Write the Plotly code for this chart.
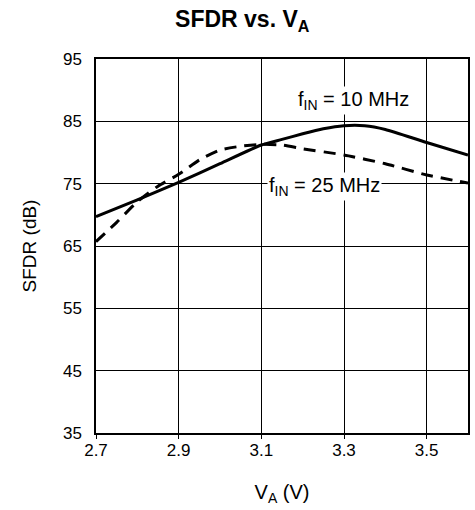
import plotly.graph_objects as go

# tensão de alimentação (V) e SFDR (dB)
va_10 = [2.7, 2.8, 2.9, 3.0, 3.1, 3.15, 3.2, 3.25, 3.3, 3.35, 3.4, 3.5, 3.6]
sfdr_10 = [69.7, 72.4, 75.2, 78.2, 81.2, 82.1, 83.0, 83.8, 84.3, 84.3, 83.7, 81.6, 79.6]

va_25 = [2.7, 2.75, 2.8, 2.85, 2.9, 2.95, 3.0, 3.05, 3.1, 3.15, 3.2, 3.3, 3.4, 3.5, 3.6]
sfdr_25 = [65.7, 68.8, 72.1, 74.6, 76.5, 78.8, 80.4, 81.0, 81.3, 81.2, 80.6, 79.6, 78.2, 76.4, 75.1]

x_ticks = [2.7, 2.9, 3.1, 3.3, 3.5]
y_ticks = [35, 45, 55, 65, 75, 85, 95]

fonte = "Liberation Sans, Arial, sans-serif"

fig = go.Figure()

fig.add_trace(go.Scatter(
    x=va_10, y=sfdr_10, mode="lines",
    line=dict(color="black", width=3, shape="spline", smoothing=0.6),
    showlegend=False,
))
fig.add_trace(go.Scatter(
    x=va_25, y=sfdr_25, mode="lines",
    line=dict(color="black", width=3, dash="12px,8px", shape="spline", smoothing=0.6),
    showlegend=False,
))

# rótulos das curvas com fundo branco
fig.add_annotation(x=3.323, y=88.4, text="f<sub>IN</sub> = 10 MHz", showarrow=False,
                   font=dict(family=fonte, size=20, color="black"), bgcolor="white")
fig.add_annotation(x=3.253, y=74.5, text="f<sub>IN</sub> = 25 MHz", showarrow=False,
                   font=dict(family=fonte, size=20, color="black"), bgcolor="white")

fig.update_layout(
    width=475, height=510,
    margin=dict(l=96, r=5, t=59, b=77),
    paper_bgcolor="white", plot_bgcolor="white",
    font=dict(family=fonte, size=16, color="black"),
    title=dict(text="<b>SFDR vs. V<sub>A</sub></b>", x=0.51, xanchor="center",
               y=0.962, yanchor="middle", font=dict(size=23)),
)

fig.update_xaxes(
    range=[2.7, 3.6], tickvals=x_ticks, ticktext=[f"{v:.1f}" for v in x_ticks],
    tickfont=dict(size=17),
    showgrid=True, gridcolor="black", gridwidth=1,
    showline=True, linecolor="black", linewidth=1.5, mirror=True,
    ticks="outside", ticklen=4, tickcolor="black", ticklabelstandoff=-3,
    zeroline=False,
    title=dict(text="V<sub>A</sub> (V)", standoff=26, font=dict(size=20)),
)
fig.update_yaxes(
    range=[35, 95], tickvals=y_ticks,
    tickfont=dict(size=17),
    showgrid=True, gridcolor="black", gridwidth=1,
    showline=True, linecolor="black", linewidth=1.5, mirror=True,
    ticks="", ticklabelstandoff=9,
    zeroline=False,
    title=dict(text="SFDR (dB)", standoff=21, font=dict(size=19)),
)

# remove a margem padrão da página para a figura ficar no canto
fig.write_html("out.html", config={"displayModeBar": False},
               post_script="document.body.style.margin='0';document.body.style.overflow='hidden';")
